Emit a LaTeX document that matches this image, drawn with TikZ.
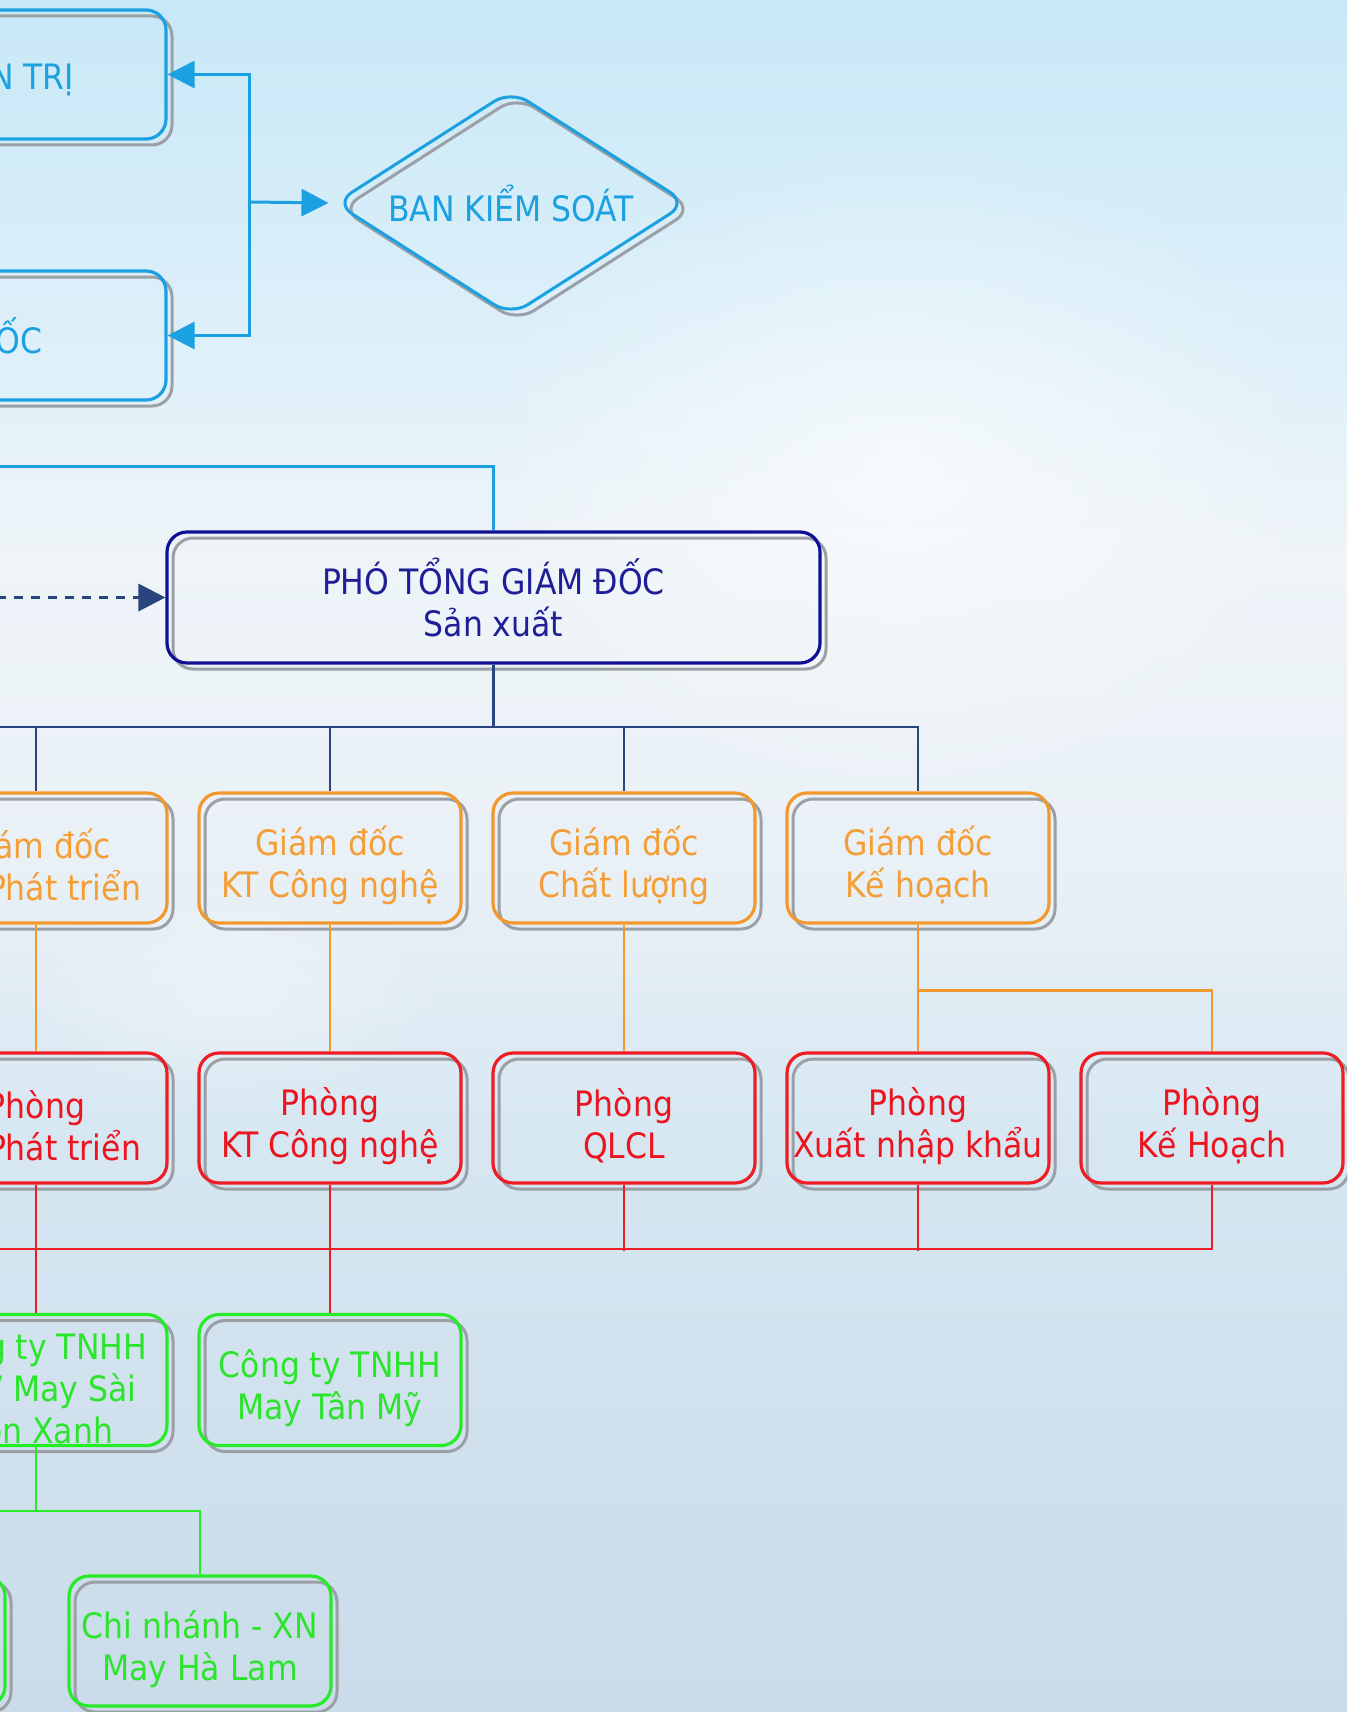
\documentclass[tikz,border=0pt]{standalone}
\usepackage{fontspec}
\setmainfont{DejaVu Sans Condensed}
\usetikzlibrary{arrows.meta,shapes.geometric,fadings}
\definecolor{bgA}{RGB}{200,232,247}
\definecolor{bgB}{RGB}{222,240,249}
\definecolor{bgC}{RGB}{238,244,248}
\definecolor{bgD}{RGB}{234,241,246}
\definecolor{bgE}{RGB}{214,231,242}
\definecolor{bgF}{RGB}{202,219,233}
\definecolor{cblue}{RGB}{27,160,226}
\definecolor{cnavy}{RGB}{16,16,150}
\definecolor{tnavy}{RGB}{30,30,150}
\definecolor{cdark}{RGB}{40,70,125}
\definecolor{corange}{RGB}{243,152,45}
\definecolor{torange}{RGB}{244,158,56}
\definecolor{cred}{RGB}{238,28,36}
\definecolor{tred}{RGB}{236,20,30}
\definecolor{cgreen}{RGB}{40,235,40}
\definecolor{tgreen}{RGB}{45,228,45}
\definecolor{shadowgray}{RGB}{155,160,166}
\pgfdeclareverticalshading{skybg}{100bp}{color(0bp)=(bgF); color(25bp)=(bgF); color(41.4bp)=(bgE); color(50.2bp)=(bgD); color(58.9bp)=(bgC); color(64.8bp)=(bgB); color(75bp)=(bgA); color(100bp)=(bgA)}
\tikzfading[name=glow, inner color=transparent!0, outer color=transparent!100]
\newcommand\tstrut{\rule{0pt}{44pt}}
\tikzset{
  boxfont/.style={font=\fontsize{35}{42}\selectfont},
  orgbox/.style={rectangle, rounded corners=20pt, minimum width=262pt, minimum height=130pt,
    line width=3.2pt, inner sep=0pt, align=center, boxfont,
    preaction={draw=shadowgray, line width=3pt, transform canvas={xshift=6pt, yshift=-6pt}}},
  bluebox/.style={orgbox, draw=cblue, text=cblue},
  navybox/.style={orgbox, draw=cnavy, text=tnavy},
  orbox/.style={orgbox, draw=corange, text=torange},
  redbox/.style={orgbox, draw=cred, text=tred},
  grbox/.style={orgbox, draw=cgreen, text=tgreen},
  diabox/.style={diamond, aspect=1.56, rounded corners=20pt, minimum width=353pt, minimum height=226pt,
    inner sep=0pt, line width=3pt, draw=cblue, text=cblue, boxfont,
    preaction={draw=shadowgray, line width=3pt, transform canvas={xshift=6pt, yshift=-6pt}}},
  tip/.style={-{Triangle[length=27pt,width=27pt]}},
  bluecon/.style={draw=cblue, line width=3pt},
  darkcon/.style={draw=cdark, line width=2.8pt},
  orcon/.style={draw=corange, line width=2.6pt},
  redcon/.style={draw=cred, line width=2.6pt},
  grcon/.style={draw=cgreen, line width=2.6pt},
}
\begin{document}
\begin{tikzpicture}[x=1pt, y=-1pt]
\useasboundingbox (0,0) rectangle (1347,1712);
\clip (0,0) rectangle (1347,1712);
\shade[shading=skybg] (0,0) rectangle (1347,1712);
\fill[white, opacity=0.6, path fading=glow] (900,470) ellipse (430 and 330);
\fill[white, opacity=0.35, path fading=glow] (230,990) ellipse (220 and 120);

% top level
\node[bluebox, minimum width=512pt, minimum height=129pt] (hdqt) at (-90,74.5) {HỘI ĐỒNG QUẢN TRỊ};
\node[bluebox, minimum width=512pt, minimum height=129pt] (tgd) at (-90,335.5) {TỔNG GIÁM ĐỐC};
\node[diabox] (bks) at (511,203) {BAN KIỂM SOÁT};
\coordinate (j) at (249,202);
\draw[bluecon, tip] (j) |- (hdqt.east);
\draw[bluecon, tip] (j) |- (tgd.east);
\draw[bluecon, tip, shorten >=4.5pt] (j) -- (bks.west);

% PTGD
\node[navybox, minimum width=653pt, minimum height=131pt] (ptgd) at (493.5,597.5) {PHÓ TỔNG GIÁM ĐỐC\\Sản xuất};
\coordinate (offA) at (-20,466);
\draw[bluecon] (offA) -| (ptgd.north);
\coordinate (offB) at (-20,597.5);
\draw[draw=cdark, line width=3.4pt, dash pattern=on 9pt off 8pt, tip] (offB) -- (ptgd.west);

% directors
\node[orbox] (gd1) at (36,858) {\tstrut Giám đốc\\\hspace*{56pt}Phát triển};
\node[orbox] (gd2) at (330,858) {\tstrut Giám đốc\\KT Công nghệ};
\node[orbox] (gd3) at (624,858) {\tstrut Giám đốc\\Chất lượng};
\node[orbox] (gd4) at (918,858) {\tstrut Giám đốc\\Kế hoạch};
\coordinate (bus) at (493.5,727);
\coordinate (offC) at (-20,727);
\draw[darkcon] (ptgd.south) -- (bus);
\draw[darkcon] (offC) -- (bus);
\draw[darkcon] (bus) -| (gd1.north);
\draw[darkcon] (bus) -| (gd2.north);
\draw[darkcon] (bus) -| (gd3.north);
\draw[darkcon] (bus) -| (gd4.north);

% departments
\node[redbox] (p1) at (36,1118) {\tstrut Phòng\\\hspace*{56pt}Phát triển};
\node[redbox] (p2) at (330,1118) {\tstrut Phòng\\KT Công nghệ};
\node[redbox] (p3) at (624,1118) {\tstrut Phòng\\QLCL};
\node[redbox] (p4) at (918,1118) {\tstrut Phòng\\Xuất nhập khẩu};
\node[redbox] (p5) at (1212,1118) {\tstrut Phòng\\Kế Hoạch};
\draw[orcon] (gd1.south) -- (p1.north);
\draw[orcon] (gd2.south) -- (p2.north);
\draw[orcon] (gd3.south) -- (p3.north);
\draw[orcon] (gd4.south) -- (p4.north);
\draw[orcon] (gd4.south) ++(0,66) -| (p5.north);

% companies
\node[grbox, minimum height=131pt] (c1) at (36,1380) {\tstrut Công ty TNHH\\MTV May Sài\\Gòn Xanh};
\node[grbox, minimum height=131pt] (c2) at (330,1380) {\tstrut Công ty TNHH\\May Tân Mỹ};
\node[grbox] (cl) at (-126,1641) {};
\node[grbox] (cn) at (200,1641) {\tstrut Chi nhánh - XN\\May Hà Lam};
\coordinate (offD) at (-20,1249);
\draw[redcon] (p1.south) -- (c1.north);
\draw[redcon] (p2.south) -- (c2.north);
\draw[redcon] (offD) -| (p5.south);
\draw[redcon] (p3.south) -- ++(0,66);
\draw[redcon] (p4.south) -- ++(0,66);
\draw[grcon] (c1.south) -- ++(0,64) coordinate (gb);
\draw[grcon] (gb) -| (cn.north);
\draw[grcon] (gb) -| (cl.north);
\end{tikzpicture}
\end{document}
